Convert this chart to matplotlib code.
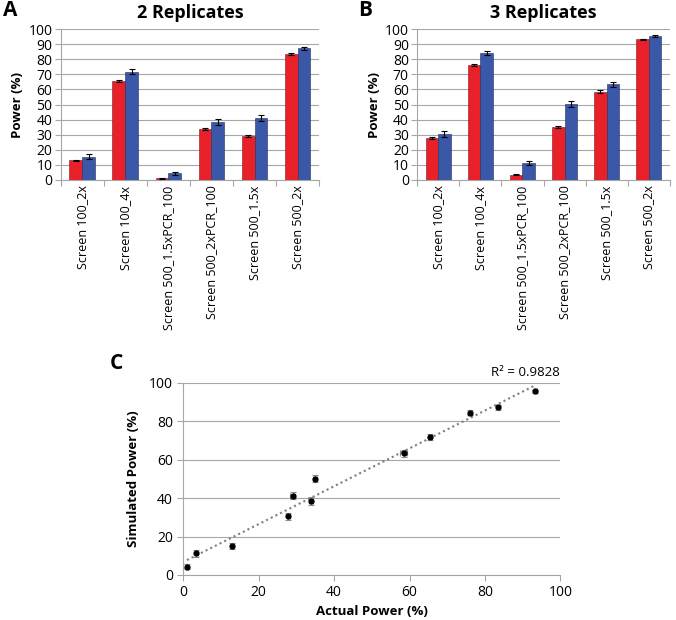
import numpy as np
import matplotlib
matplotlib.use("Agg")
import matplotlib.pyplot as plt

plt.rcParams['font.family'] = ['Open Sans', 'DejaVu Sans']

categories = ["Screen 100_2x", "Screen 100_4x", "Screen 500_1.5xPCR_100",
              "Screen 500_2xPCR_100", "Screen 500_1.5x", "Screen 500_2x"]

# 2 replicates
actual_2 = [13.0, 65.5, 1.0, 33.8, 29.0, 83.5]
actual_2_err = [0.4, 0.5, 0.3, 0.5, 0.7, 0.5]
sim_2 = [15.3, 71.8, 4.3, 38.5, 41.3, 87.2]
sim_2_err = [1.6, 1.6, 1.3, 2.0, 2.0, 1.2]

# 3 replicates
actual_3 = [27.8, 76.0, 3.5, 35.0, 58.5, 93.3]
actual_3_err = [0.4, 0.5, 0.4, 0.5, 0.9, 0.4]
sim_3 = [30.5, 84.3, 11.2, 50.2, 63.3, 95.5]
sim_3_err = [2.0, 1.3, 1.6, 1.8, 1.8, 0.7]

r2_label = "R² = 0.9828"

RED = "#e8202a"
BLUE = "#3b57a7"
GRID = "#a6a6a6"

fig = plt.figure(figsize=(6.76, 6.2), dpi=100)


def bar_panel(ax, red, red_err, blue, blue_err, title, letter, letter_x):
    x = np.arange(len(categories))
    w = 0.3
    ax.bar(x - w / 2, red, w, yerr=red_err, color=RED, edgecolor="#7a1a1a",
           linewidth=0.4, capsize=2.5, error_kw=dict(elinewidth=0.8, capthick=0.8), zorder=3)
    ax.bar(x + w / 2, blue, w, yerr=blue_err, color=BLUE, edgecolor="#1f2f5f",
           linewidth=0.4, capsize=2.5, error_kw=dict(elinewidth=0.8, capthick=0.8), zorder=3)
    ax.set_xlim(-0.5, len(categories) - 0.5)
    ax.set_ylim(0, 100)
    ax.set_yticks(range(0, 101, 10))
    ax.yaxis.grid(True, color=GRID, linewidth=0.8, zorder=0)
    ax.set_xticks(np.arange(-0.5, len(categories), 1.0))
    ax.set_xticklabels([])
    ax.set_xticks(x, minor=True)
    ax.set_xticklabels(categories, minor=True, rotation=90, fontsize=9)
    ax.tick_params(axis="x", which="minor", length=0, pad=4)
    ax.tick_params(axis="x", which="major", length=4, color=GRID)
    ax.tick_params(axis="y", labelsize=10, length=4, color=GRID, pad=2)
    for s in ["top", "right"]:
        ax.spines[s].set_visible(False)
    for s in ["left", "bottom"]:
        ax.spines[s].set_color(GRID)
    ax.set_ylabel("Power (%)", fontsize=9.5, fontweight="bold", labelpad=3)
    ax.set_title(title, fontsize=13, fontweight="bold", pad=8)
    ax.text(letter_x, 1.125, letter, transform=ax.transAxes, fontsize=15,
            fontweight="bold", va="center", ha="left")


axA = fig.add_axes([0.090, 0.7097, 0.382, 0.2435])
bar_panel(axA, actual_2, actual_2_err, sim_2, sim_2_err, "2 Replicates", "A", -0.225)
axB = fig.add_axes([0.617, 0.7097, 0.374, 0.2435])
bar_panel(axB, actual_3, actual_3_err, sim_3, sim_3_err, "3 Replicates", "B", -0.233)

# scatter panel C: actual vs simulated for both replicate settings
xs = np.array(actual_2 + actual_3)
xe = np.array(actual_2_err + actual_3_err)
ys = np.array(sim_2 + sim_3)
ye = np.array(sim_2_err + sim_3_err)

axC = fig.add_axes([0.271, 0.0726, 0.558, 0.310])
axC.yaxis.grid(True, color=GRID, linewidth=0.8, zorder=0)
axC.errorbar(xs, ys, xerr=xe, yerr=ye, fmt="o", color="black", markersize=3.5,
             ecolor="#8c8c8c", elinewidth=0.8, capsize=2.5, capthick=0.8, zorder=3)
slope, icpt = np.polyfit(xs, ys, 1)
tx = np.array([xs.min(), xs.max()])
axC.plot(tx, slope * tx + icpt, linestyle=(0, (1, 1.5)), color="#7f7f7f",
         linewidth=1.5, zorder=2)
axC.set_xlim(0, 100)
axC.set_ylim(0, 100)
axC.set_xticks(range(0, 101, 20))
axC.set_yticks(range(0, 101, 20))
axC.tick_params(labelsize=10, length=4, color=GRID)
for s in ["top", "right"]:
    axC.spines[s].set_visible(False)
for s in ["left", "bottom"]:
    axC.spines[s].set_color(GRID)
axC.set_xlabel("Actual Power (%)", fontsize=9.5, fontweight="bold", labelpad=3)
axC.set_ylabel("Simulated Power (%)", fontsize=9.5, fontweight="bold", labelpad=6)
axC.text(81.5, 102, r2_label, fontsize=9.5, ha="left", va="bottom")
axC.text(-0.194, 1.10, "C", transform=axC.transAxes, fontsize=15,
         fontweight="bold", va="center", ha="left")

fig.savefig("out.png", dpi=100)
